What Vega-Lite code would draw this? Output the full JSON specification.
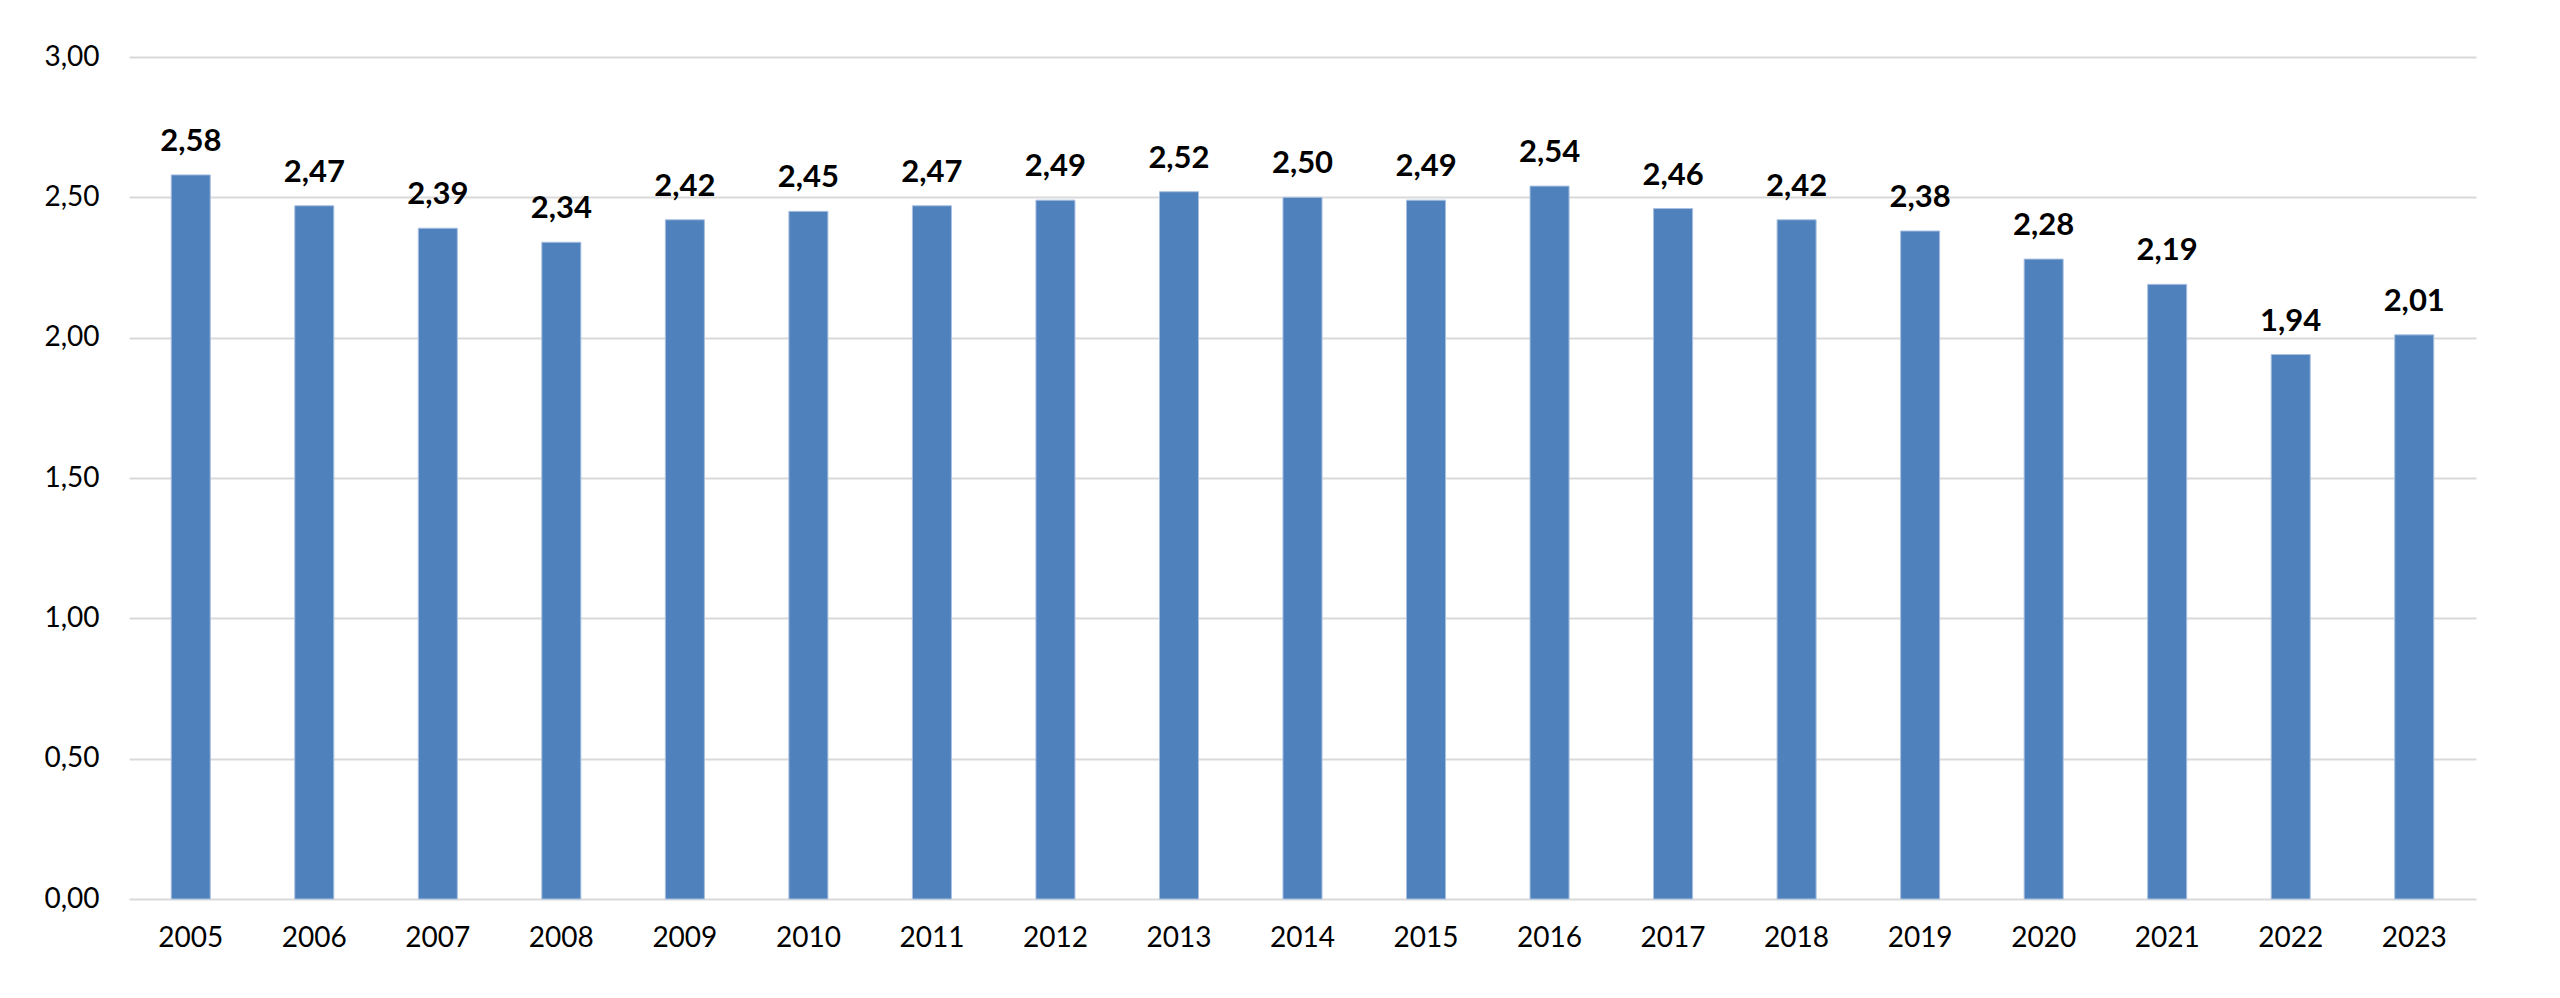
{
  "$schema": "https://vega.github.io/schema/vega-lite/v6.json",
  "autosize": {"type": "none"},
  "width": 2347,
  "height": 842,
  "padding": {"left": 129, "top": 57, "right": 84, "bottom": 99},
  "background": "white",
  "config": {
    "locale": {"number": {"decimal": ",", "thousands": ".", "grouping": [3], "currency": ["", " €"]}},
    "view": {"stroke": null},
    "font": "Lato"
  },
  "data": {"values": [
    {"year": "2005", "value": 2.58},
    {"year": "2006", "value": 2.47},
    {"year": "2007", "value": 2.39},
    {"year": "2008", "value": 2.34},
    {"year": "2009", "value": 2.42},
    {"year": "2010", "value": 2.45},
    {"year": "2011", "value": 2.47},
    {"year": "2012", "value": 2.49},
    {"year": "2013", "value": 2.52},
    {"year": "2014", "value": 2.50},
    {"year": "2015", "value": 2.49},
    {"year": "2016", "value": 2.54},
    {"year": "2017", "value": 2.46},
    {"year": "2018", "value": 2.42},
    {"year": "2019", "value": 2.38},
    {"year": "2020", "value": 2.28},
    {"year": "2021", "value": 2.19},
    {"year": "2022", "value": 1.94},
    {"year": "2023", "value": 2.01}
  ]},
  "encoding": {
    "x": {
      "field": "year", "type": "ordinal",
      "scale": {"paddingInner": 0.684, "paddingOuter": 0.342},
      "axis": {
        "title": null, "labelAngle": 0, "ticks": false, "domain": false,
        "labelFont": "Lato", "labelFontSize": 28, "labelColor": "#000000", "labelPadding": 25
      }
    },
    "y": {
      "field": "value", "type": "quantitative",
      "scale": {"domain": [0, 3]},
      "axis": {
        "title": null, "values": [0, 0.5, 1, 1.5, 2, 2.5, 3], "format": ".2f",
        "ticks": false, "domain": false, "grid": true, "gridColor": "#d9d9d9", "gridWidth": 2,
        "labelFont": "Lato", "labelFontSize": 28, "labelColor": "#000000", "labelPadding": 30
      }
    }
  },
  "layer": [
    {"mark": {"type": "bar", "color": "#4f81bd", "stroke": "#a9c0e0", "strokeWidth": 1}},
    {
      "mark": {"type": "text", "dy": -17, "baseline": "bottom", "font": "Lato", "fontSize": 31, "fontWeight": "bold", "color": "#000000"},
      "encoding": {"text": {"field": "value", "type": "quantitative", "format": ".2f"}}
    }
  ]
}
